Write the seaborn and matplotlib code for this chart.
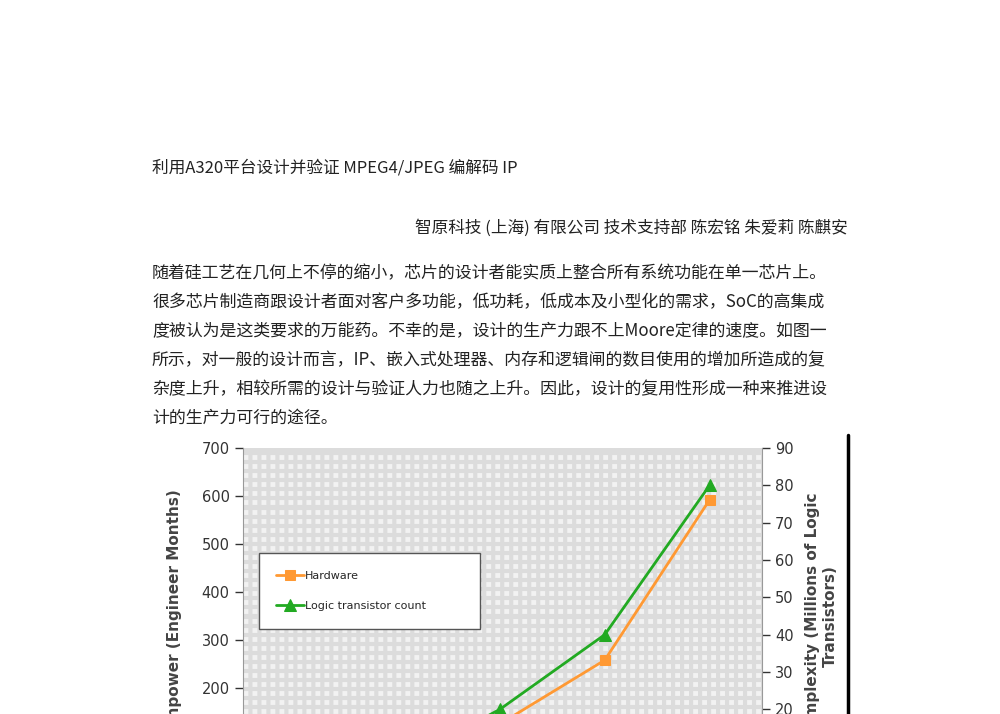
import numpy as np
import pandas as pd
import seaborn as sns
import matplotlib.pyplot as plt

sns.set_style("white")
plt.rcParams['font.family'] = ['Noto Sans CJK SC', 'DejaVu Sans']

# data (lower part of the chart is cut off)
steps = [0, 1, 2, 3, 4]
hardware = [30, 60, 125, 258, 592]          # engineer months
transistors = [2, 5, 20, 40, 80]            # millions of logic transistors

title = "利用A320平台设计并验证 MPEG4/JPEG 编解码 IP"
authors = "智原科技 (上海) 有限公司 技术支持部 陈宏铭 朱爱莉 陈麒安"
para = [
    "随着硅工艺在几何上不停的缩小，芯片的设计者能实质上整合所有系统功能在单一芯片上。",
    "很多芯片制造商跟设计者面对客户多功能，低功耗，低成本及小型化的需求，SoC的高集成",
    "度被认为是这类要求的万能药。不幸的是，设计的生产力跟不上Moore定律的速度。如图一",
    "所示，对一般的设计而言，IP、嵌入式处理器、内存和逻辑闸的数目使用的增加所造成的复",
    "杂度上升，相较所需的设计与验证人力也随之上升。因此，设计的复用性形成一种来推进设",
    "计的生产力可行的途径。",
]

fig = plt.figure(figsize=(10, 7.14), dpi=100)
tc = '#222222'
fig.text(0.152, 1 - 168 / 714, title, fontsize=12, color=tc, va='center')
fig.text(0.848, 1 - 228 / 714, authors, fontsize=12, color=tc, va='center', ha='right')
for i, line in enumerate(para):
    fig.text(0.152, 1 - (273 + 29 * i) / 714, line, fontsize=12.2, color=tc, va='center')

# chart axes extend past the bottom of the page
ax = fig.add_axes([0.243, (714 - 784) / 714, 0.519, 336 / 714])
ax.set_facecolor('#dcdcdc')
df = pd.DataFrame({'step': steps, 'Hardware': hardware, 'Logic': transistors})
sns.lineplot(data=df, x='step', y='Hardware', ax=ax, color='#ff9933', marker='s',
             markersize=7, markeredgecolor='#ff9933', linewidth=2, label='Hardware', legend=False)
ax2 = ax.twinx()
sns.lineplot(data=df, x='step', y='Logic', ax=ax2, color='#22aa22', marker='^',
             markersize=8, markeredgecolor='#22aa22', linewidth=2, label='Logic transistor count', legend=False)

ax.set_xlim(-0.45, 4.5)
ax.set_ylim(0, 700)
ax2.set_ylim(0, 90)
ax.set_yticks(range(0, 701, 100))
ax2.set_yticks(range(0, 91, 10))
ax.set_xticks([])
ax.set_xlabel('')
# dotted background pattern: rows of short light dashes
ax.set_yticks(np.linspace(0, 700, 38)[1:-1], minor=True)
ax.tick_params(axis='y', which='minor', length=0)
ax.grid(which='minor', axis='y', color='#f2f2f2', linestyle=(0, (1.0, 0.85)), linewidth=3.5)
ax.set_axisbelow(True)
for a in (ax, ax2):
    a.tick_params(axis='y', which='major', labelsize=10.5, colors='#333333', direction='out',
                  length=6, width=1, labelfontfamily='DejaVu Sans')
    for s in a.spines.values():
        s.set_visible(False)
ax.spines['left'].set_visible(True)
ax.spines['left'].set_color('#999999')
ax2.spines['right'].set_visible(True)
ax2.spines['right'].set_color('#999999')
ax.set_ylabel('Manpower (Engineer Months)', fontsize=11, fontweight='bold', color='#444444',
              family='DejaVu Sans', labelpad=14)
ax2.set_ylabel('Complexity (Millions of Logic\nTransistors)', fontsize=11, fontweight='bold',
               color='#444444', rotation=90, family='DejaVu Sans', labelpad=8)

h1, l1 = ax.get_legend_handles_labels()
h2, l2 = ax2.get_legend_handles_labels()
leg = ax2.legend(h1 + h2, l1 + l2, loc='upper left', mode='expand',
                 bbox_to_anchor=(0.03, 0.464, 0.426, 0.223),
                 fancybox=False, edgecolor='#555555', prop={'family': 'DejaVu Sans', 'size': 8},
                 labelspacing=1.8, handlelength=2.5, borderaxespad=0, borderpad=1.6,
                 handletextpad=0.1, framealpha=1)
leg.get_frame().set_linewidth(1)

# black bar at the right edge of the page image
fig.add_artist(plt.Line2D([0.848, 0.848], [0, 1 - 435 / 714], color='black', linewidth=2.5))

fig.savefig('out.png', dpi=100)
